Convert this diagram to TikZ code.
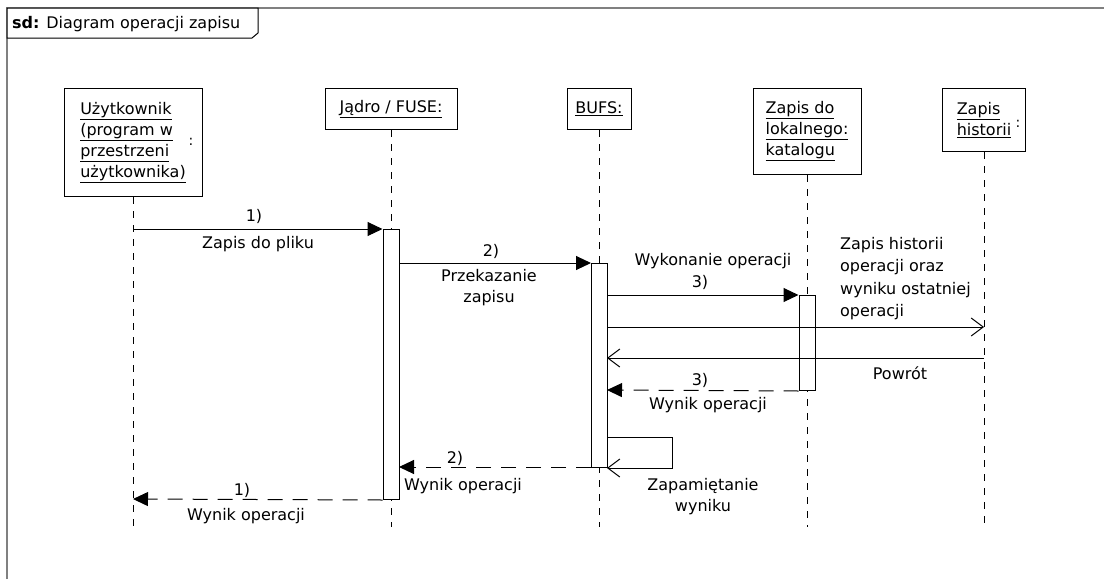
\documentclass[tikz,border=0pt]{standalone}
\usepackage{fontspec}
\setmainfont{DejaVu Sans}
\usetikzlibrary{arrows.meta}

\begin{document}
\begin{tikzpicture}[
  x=1pt, y=-1pt,
  every node/.style={font=\fontsize{16}{21}\selectfont},
  head/.style={draw=black, line width=1pt, fill=white, align=left, inner sep=0pt, anchor=north},
  act/.style={draw=black, line width=1pt, fill=white, minimum width=16pt, inner sep=0pt, anchor=north},
  life/.style={line width=0.9pt, dash pattern=on 7pt off 7pt},
  msg/.style={line width=1pt, -{Triangle[length=15pt,width=14pt]}},
  reply/.style={line width=1pt, dash pattern=on 15pt off 10pt, -{Triangle[length=15pt,width=14pt]}},
  async/.style={line width=1pt, -{Straight Barb[length=12pt,width=18pt]}},
  lbl/.style={inner sep=0pt, align=center}
]
  \useasboundingbox (0,0) rectangle (1104,579);

  % Ramka diagramu
  \draw[gray, line width=1.4pt] (7,579) -- (7,8) -- (1104,8);
  \draw[line width=1pt, fill=white] (7,8) -- (258,8) -- (258,33) -- (252,38) -- (7,38) -- cycle;
  \node[lbl, anchor=west] (title) at (12,24) {\textbf{sd:} Diagram operacji zapisu};

  % Obiekty (naglowki linii zycia)
  \node[head, minimum width=138pt, minimum height=108pt] (hU) at (133,88)
    {\underline{Użytkownik}\\\underline{(program w}\\\underline{przestrzeni}\\\underline{użytkownika)}};
  \node[lbl, font=\fontsize{14}{14}\selectfont] (cU) at (191,142) {:};
  \node[head, minimum width=132pt, minimum height=41pt] (hJ) at (391,88) {\underline{Jądro / FUSE:}};
  \node[head, minimum width=64pt, minimum height=41pt] (hB) at (599,88) {\underline{BUFS:}};
  \node[head, minimum width=108pt, minimum height=86pt] (hK) at (807,88)
    {\underline{Zapis do}\\\underline{lokalnego:}\\\underline{katalogu}};
  \node[head, minimum width=83pt, minimum height=63pt] (hH) at (984,88)
    {\underline{Zapis}\\\underline{historii}};
  \node[lbl, font=\fontsize{14}{14}\selectfont] (cH) at (1018,124) {:};

  % Konce linii zycia
  \coordinate (eU) at (133,527);
  \coordinate (eJ) at (391,527);
  \coordinate (eB) at (599,527);
  \coordinate (eK) at (807,527);
  \coordinate (eH) at (984,527);

  % Linie zycia
  \draw[life] (hU.south) -- (eU);
  \draw[life] (hJ.south) -- (eJ);
  \draw[life] (hB.south) -- (eB);
  \draw[life] (hK.south) -- (eK);
  \draw[life] (hH.south) -- (eH);

  % Aktywacje
  \node[act, minimum height=270pt] (aJ) at (391,229) {};
  \node[act, minimum height=204pt] (aB) at (599,263) {};
  \node[act, minimum height=95pt] (aK) at (807,295) {};

  % Punkty komunikatow
  \coordinate (m1a) at (133,229);
  \coordinate (m2a) at (399,263);
  \coordinate (m2b) at (591,263);
  \coordinate (m3a) at (607,295);
  \coordinate (m4a) at (607,327);
  \coordinate (m4b) at (984,327);
  \coordinate (m5a) at (984,358);
  \coordinate (m5b) at (607,358);
  \coordinate (m6b) at (607,390);
  \coordinate (s1) at (607,437);
  \coordinate (s2) at (672,437);
  \coordinate (s3) at (672,468);
  \coordinate (s4) at (607,468);
  \coordinate (m8a) at (591,467);
  \coordinate (m8b) at (399,467);
  \coordinate (m9b) at (133,499);

  % Komunikaty
  \draw[msg] (m1a) -- (aJ.north west);
  \draw[msg] (m2a) -- (m2b);
  \draw[msg] (m3a) -- (aK.north west);
  \draw[async] (m4a) -- (m4b);
  \draw[async] (m5a) -- (m5b);
  \draw[reply] (aK.south west) -- (m6b);
  \draw[async] (s1) -- (s2) -- (s3) -- (s4);
  \draw[reply] (m8a) -- (m8b);
  \draw[reply] (aJ.south west) -- (m9b);

  % Etykiety
  \node[lbl] (l1a) at (254,216) {1)};
  \node[lbl] (l1b) at (258,244) {Zapis do pliku};
  \node[lbl] (l2a) at (491,251) {2)};
  \node[lbl] (l2b) at (489,288) {Przekazanie\\zapisu};
  \node[lbl] (l3a) at (713,261) {Wykonanie operacji};
  \node[lbl] (l3b) at (700,282) {3)};
  \node[lbl, anchor=north west, align=left, font=\fontsize{16}{22.5}\selectfont] (l4) at (840,237)
    {Zapis historii\\operacji oraz\\wyniku ostatniej\\operacji};
  \node[lbl] (l5) at (900,373) {Powrót};
  \node[lbl] (l6a) at (700,380) {3)};
  \node[lbl] (l6b) at (708,405) {Wynik operacji};
  \node[lbl] (l7) at (703,497) {Zapamiętanie\\wyniku};
  \node[lbl] (l8a) at (455,458) {2)};
  \node[lbl] (l8b) at (463,486) {Wynik operacji};
  \node[lbl] (l9a) at (242,490) {1)};
  \node[lbl] (l9b) at (246,516) {Wynik operacji};

\end{tikzpicture}
\end{document}
